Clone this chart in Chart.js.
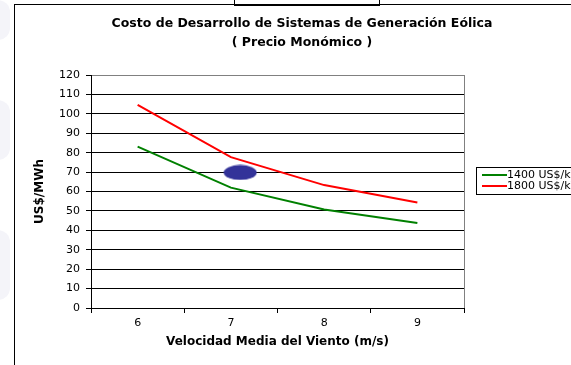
<!DOCTYPE html>
<html>
<head>
<meta charset="utf-8">
<script src="https://cdn.jsdelivr.net/npm/chart.js@4.4.1/dist/chart.umd.min.js"></script>
<style>
  html, body { margin: 0; padding: 0; background: #fff; overflow: hidden; }
  #wrap { position: relative; width: 571px; height: 365px; overflow: hidden; }
  .frame { position: absolute; left: 14px; top: 4px; width: 640px; height: 420px; border: 1px solid #000; }
  .tab { position: absolute; left: 234px; top: -10px; width: 144px; height: 14px; border: 1px solid #000; }
  .blob { position: absolute; left: -14px; width: 24px; border-radius: 12px; background: #f4f4f9; }
  canvas { position: absolute; left: 0; top: 0; }
</style>
</head>
<body>
<div id="wrap">
  <div class="blob" style="top: 0px; height: 40px"></div>
  <div class="blob" style="top: 100px; height: 60px"></div>
  <div class="blob" style="top: 230px; height: 70px"></div>
  <div class="frame"></div>
  <div class="tab"></div>
  <canvas id="chart" width="571" height="365"></canvas>
</div>
<script>
const TITLE = ['Costo de Desarrollo de Sistemas de Generación Eólica', '( Precio Monómico )'];
const X_TITLE = 'Velocidad Media del Viento (m/s)';
const Y_TITLE = 'US$/MWh';
const SPEEDS = [6, 7, 8, 9];
const COST_1400 = [83.1, 62, 50.7, 43.8];
const COST_1800 = [104.6, 77.7, 63.3, 54.3];
const SERIES_NAMES = ['1400 US$/kW', '1800 US$/kW'];
const MARK_SPEED = [7.1];
const MARK_COST = [69.8];
const Y_MIN = 0, Y_MAX = 120, Y_STEP = 10;

Chart.defaults.font.family = '"DejaVu Sans", sans-serif';
Chart.defaults.color = '#000';

// blue oval used as the marker's point style
const oval = document.createElement('canvas');
oval.width = 34;
oval.height = 16;
const octx = oval.getContext('2d');
octx.fillStyle = '#333399';
octx.beginPath();
octx.ellipse(17, 8, 16.5, 7.5, 0, 0, Math.PI * 2);
octx.fill();

const toPoints = (xs, ys) => xs.map((x, i) => ({ x, y: ys[i] }));

// centre the title over the whole chart object, not the plot area
const titleShift = {
  id: 'titleShift',
  afterLayout(chart) {
    const t = chart.titleBlock;
    if (t) { t.left = 14; t.right = 590; }
  }
};

// grey plot-area edge on the right
const plotEdge = {
  id: 'plotEdge',
  beforeDatasetsDraw(chart) {
    const { ctx, chartArea } = chart;
    ctx.save();
    ctx.strokeStyle = '#808080';
    ctx.lineWidth = 1;
    ctx.beginPath();
    ctx.moveTo(chartArea.right + 0.5, chartArea.top);
    ctx.lineTo(chartArea.right + 0.5, chartArea.bottom);
    ctx.stroke();
    ctx.restore();
  }
};

// boxed legend, Excel style
const boxLegend = {
  id: 'boxLegend',
  afterDraw(chart) {
    const { ctx, chartArea } = chart;
    const x = Math.round(chartArea.right) + 12;
    const y = Math.round(chartArea.top) + 92;
    const items = chart.data.datasets.filter(d => d.label);
    ctx.save();
    ctx.fillStyle = '#fff';
    ctx.fillRect(x, y, 140, 27);
    ctx.strokeStyle = '#000';
    ctx.lineWidth = 1;
    ctx.strokeRect(x + 0.5, y + 0.5, 140, 27);
    ctx.font = '11px "DejaVu Sans"';
    ctx.textBaseline = 'middle';
    items.forEach((d, i) => {
      const ly = y + 8 + i * 11;
      ctx.strokeStyle = d.borderColor;
      ctx.lineWidth = 2;
      ctx.beginPath();
      ctx.moveTo(x + 6, ly);
      ctx.lineTo(x + 31, ly);
      ctx.stroke();
      ctx.fillStyle = '#000';
      ctx.fillText(d.label, x + 31, ly);
    });
    ctx.restore();
  }
};

new Chart(document.getElementById('chart'), {
  type: 'line',
  data: {
    datasets: [
      { label: SERIES_NAMES[0], data: toPoints(SPEEDS, COST_1400), borderColor: '#008000', borderWidth: 2, pointRadius: 0, tension: 0 },
      { label: SERIES_NAMES[1], data: toPoints(SPEEDS, COST_1800), borderColor: '#ff0000', borderWidth: 2, pointRadius: 0, tension: 0 },
      { data: toPoints(MARK_SPEED, MARK_COST), showLine: false, pointStyle: oval, pointRadius: 3, borderWidth: 0 },
    ],
  },
  options: {
    responsive: false,
    animation: false,
    devicePixelRatio: 1,
    layout: { padding: { left: 14, right: 107, top: 0, bottom: 0 } },
    plugins: {
      legend: { display: false },
      tooltip: { enabled: false },
      title: {
        display: true,
        text: TITLE,
        color: '#000',
        font: { size: 12.5, weight: 'bold', lineHeight: 19 / 12.5 },
        padding: { top: 14.5, bottom: 22.5 },
      },
    },
    scales: {
      x: {
        type: 'linear',
        min: 5.5,
        max: 9.5,
        ticks: {
          stepSize: 0.5,
          autoSkip: false,
          maxRotation: 0,
          color: '#000',
          font: { size: 11 },
          padding: 4,
          callback: v => Number.isInteger(v) ? String(v) : '',
        },
        grid: {
          drawOnChartArea: false,
          tickLength: 5,
          color: '#000',
          tickColor: c => (c.tick && Number.isInteger(c.tick.value)) ? 'rgba(0,0,0,0)' : '#000',
        },
        border: { color: '#000' },
        title: { display: true, text: X_TITLE, color: '#000', font: { size: 12, weight: 'bold' }, padding: { top: 0, bottom: 16 } },
        afterFit: s => { s.height = 57; },
      },
      y: {
        min: Y_MIN,
        max: Y_MAX,
        ticks: { stepSize: Y_STEP, color: '#000', font: { size: 11 }, padding: 6 },
        grid: {
          color: c => (c.tick && c.tick.value === Y_MAX) ? '#808080' : '#000',
          tickColor: '#000',
          tickLength: 5,
        },
        border: { color: '#000' },
        title: { display: true, text: Y_TITLE, color: '#000', font: { size: 12, weight: 'bold' }, padding: { top: 19, bottom: 0 } },
        afterFit: s => { s.width = 77; },
      },
    },
  },
  plugins: [titleShift, plotEdge, boxLegend],
});
</script>
</body>
</html>
